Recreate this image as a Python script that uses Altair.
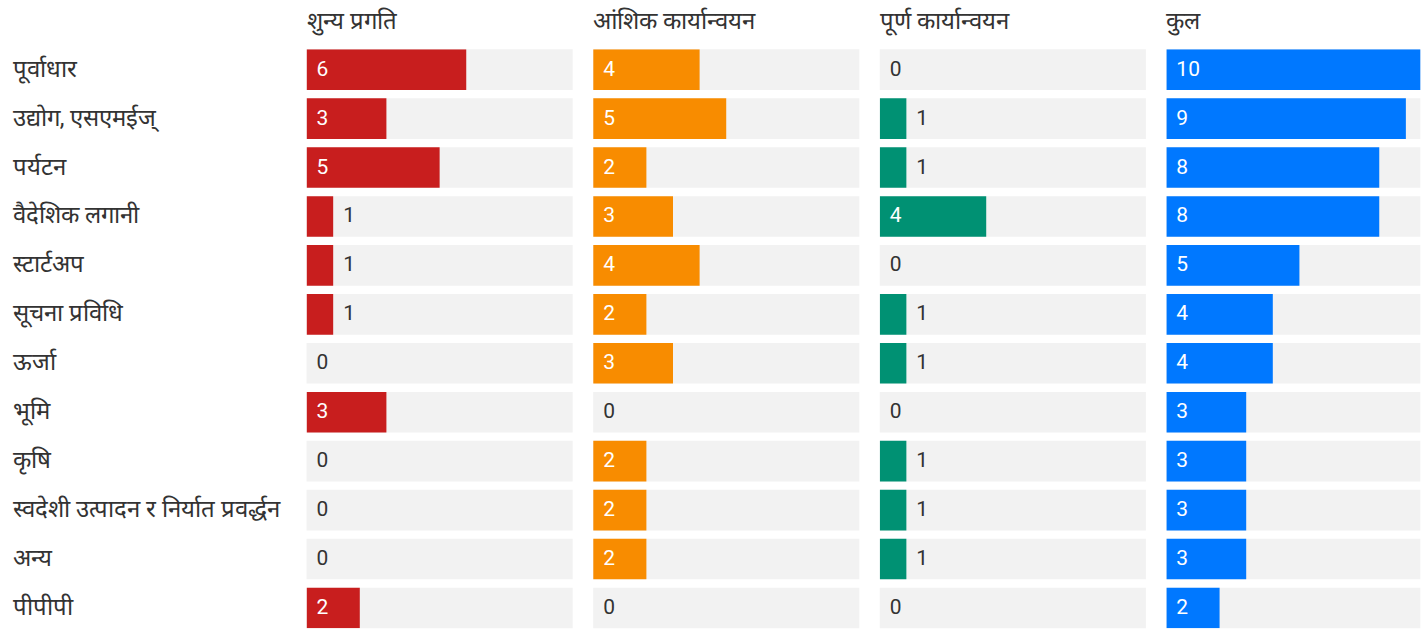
import altair as alt
import pandas as pd

categories = ["पूर्वाधार", "उद्योग, एसएमईज्", "पर्यटन", "वैदेशिक लगानी", "स्टार्टअप",
              "सूचना प्रविधि", "ऊर्जा", "भूमि", "कृषि",
              "स्वदेशी उत्पादन र निर्यात प्रवर्द्धन", "अन्य", "पीपीपी"]
titles = ["शुन्य प्रगति", "आंशिक कार्यान्वयन", "पूर्ण कार्यान्वयन", "कुल"]
zero_progress = [6, 3, 5, 1, 1, 1, 0, 3, 0, 0, 0, 2]
partial_impl = [4, 5, 2, 3, 4, 2, 3, 0, 2, 2, 2, 0]
full_impl = [0, 1, 1, 4, 0, 1, 1, 0, 1, 1, 1, 0]
total = [10, 9, 8, 8, 5, 4, 4, 3, 3, 3, 3, 2]
series = [zero_progress, partial_impl, full_impl, total]
colors = ["#c81e1e", "#f88c00", "#009173", "#0078ff"]

FONT = "Roboto"
TEXT = "#333333"
PW = 266.5
H = 579.7

panels = []
for i, (title, vals, col) in enumerate(zip(titles, series, colors)):
    df = pd.DataFrame({"cat": categories, "v": vals})
    last = i == 3
    width = 254.3 if last else PW
    xscale = alt.Scale(domain=[0, 10], range=[0, PW]) if last else alt.Scale(domain=[0, 10])
    yax = alt.Axis(title=None, ticks=False, domain=False, labelAlign="left",
                   labelPadding=294.7, minExtent=294.7, maxExtent=294.7,
                   labelFontSize=24, labelFont=FONT, labelColor=TEXT, labelLimit=400) if i == 0 else None
    y = alt.Y("cat:N", sort=categories, axis=yax,
              scale=alt.Scale(paddingInner=0.17, paddingOuter=0))
    base = alt.Chart(df)
    bg = base.mark_bar(color="#f2f2f2").encode(
        y=y, x=alt.value(0), x2=alt.value("width"))
    bar = base.mark_bar(color=col, clip=True).encode(
        y=y, x=alt.X("v:Q", scale=xscale, axis=None))
    txt = base.transform_calculate(
        pos="datum.v >= 2 ? 0 : datum.v",
        inside="datum.v >= 2 ? 'in' : 'out'"
    ).mark_text(align="left", baseline="middle", dx=10, fontSize=21, font=FONT).encode(
        y=y,
        x=alt.X("pos:Q", scale=xscale, axis=None),
        text=alt.Text("v:Q"),
        color=alt.Color("inside:N", scale=alt.Scale(domain=["in", "out"], range=["#ffffff", TEXT]), legend=None),
    )
    layer = alt.layer(bg, bar, txt).properties(
        width=width, height=H,
        title=alt.TitleParams(title, anchor="start", frame="group", fontSize=24, font=FONT,
                              fontWeight="normal", color=TEXT, offset=15))
    panels.append(layer)

chart = alt.hconcat(*panels, spacing=20).resolve_scale(color="independent").properties(
    padding={"left": 12, "top": 10, "right": 0, "bottom": 0}
).configure_view(stroke=None)

chart.save("out.html", embed_options={"renderer": "svg", "actions": False})
